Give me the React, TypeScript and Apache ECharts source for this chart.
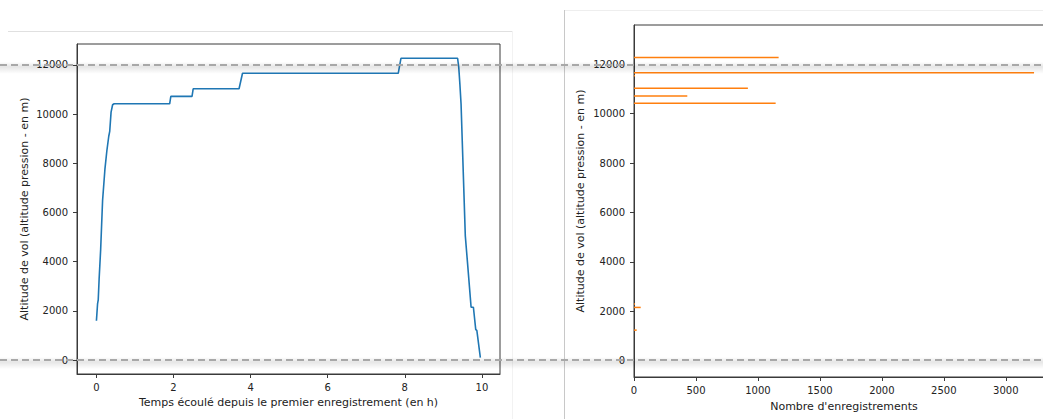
import React, { useEffect, useRef } from "react";
import * as echarts from "echarts";

// Flight profile (time in hours, pressure altitude in m)
const flightTimes = [
  0, 0.03, 0.047, 0.07, 0.11, 0.16, 0.22, 0.27, 0.32, 0.345, 0.38, 0.42, 0.46,
  1.9, 1.93, 2.48, 2.51, 3.7, 3.79, 7.83, 7.9, 9.37, 9.4, 9.43, 9.46, 9.57,
  9.63, 9.72, 9.78, 9.84, 9.87, 9.96,
];
const flightAltitudes = [
  1600, 2300, 2450, 3300, 4500, 6500, 7750, 8500, 9100, 9300, 10080, 10380, 10420,
  10420, 10720, 10720, 11030, 11030, 11660, 11660, 12270, 12270, 11900, 11200, 10400, 5050,
  3900, 2150, 2150, 1250, 1200, 100,
];

// Histogram of altitudes (bin centre in m, number of records)
const histAltitudes = [12280, 11660, 11540, 11030, 10720, 10420, 2285, 2150, 1230];
const histCounts = [1167, 3228, 8, 919, 430, 1143, 8, 54, 22];
const histBinWidth = 61;

const leftXTicks = [0, 2, 4, 6, 8, 10];
const altitudeTicks = [0, 2000, 4000, 6000, 8000, 10000, 12000];
const countTicks = [0, 500, 1000, 1500, 2000, 2500, 3000];

const referenceLevels = [12000, 0];

const FONT = "DejaVu Sans";
const TXT = "#222";
const SPINE = "#3a3a3a";

export default function App() {
  const ref = useRef<HTMLDivElement>(null);
  useEffect(() => {
    if (!ref.current) return;
    const chart = echarts.init(ref.current, undefined, { renderer: "svg" });
    const axisLine = { show: true, onZero: false, lineStyle: { color: SPINE, width: 1 } };
    const tick = (vals: number[]) => ({
      show: true,
      inside: false,
      length: 4,
      lineStyle: { color: SPINE, width: 1 },
      customValues: vals,
    });
    const label = (vals: number[], margin: number) => ({
      customValues: vals,
      margin,
      color: TXT,
      fontFamily: FONT,
      fontSize: 10,
      formatter: (v: number) => String(v),
    });
    const nameStyle = { color: TXT, fontFamily: FONT, fontSize: 11 };

    chart.setOption({
      animation: false,
      backgroundColor: "#fff",
      grid: [
        { left: 77, top: 44, width: 423, height: 330, show: true, borderColor: SPINE, borderWidth: 1, backgroundColor: "transparent", outerBoundsMode: "none", containLabel: false },
        { left: 634, top: 25, width: 420, height: 352, show: true, borderColor: SPINE, borderWidth: 1, backgroundColor: "transparent", outerBoundsMode: "none", containLabel: false },
      ],
      xAxis: [
        {
          type: "value", gridIndex: 0, min: -0.504, max: 10.47,
          axisLine, axisTick: tick(leftXTicks), axisLabel: label(leftXTicks, 8),
          splitLine: { show: false },
          name: "Temps écoulé depuis le premier enregistrement (en h)",
          nameLocation: "middle", nameGap: 23, nameTextStyle: nameStyle,
        },
        {
          type: "value", gridIndex: 1, min: 0, max: 3389,
          axisLine, axisTick: tick(countTicks), axisLabel: label(countTicks, 8),
          splitLine: { show: false },
          name: "Nombre d'enregistrements",
          nameLocation: "middle", nameGap: 24, nameTextStyle: nameStyle,
        },
      ],
      yAxis: [
        {
          type: "value", gridIndex: 0, min: -565, max: 12850,
          axisLine, axisTick: tick(altitudeTicks), axisLabel: label(altitudeTicks, 9),
          splitLine: { show: false },
          name: "Altitude de vol (altitude pression - en m)",
          nameLocation: "middle", nameGap: 47, nameTextStyle: nameStyle,
        },
        {
          type: "value", gridIndex: 1, min: -669, max: 13593,
          axisLine, axisTick: tick(altitudeTicks), axisLabel: label(altitudeTicks, 9),
          splitLine: { show: false },
          name: "Altitude de vol (altitude pression - en m)",
          nameLocation: "middle", nameGap: 48, nameTextStyle: nameStyle,
        },
      ],
      series: [
        {
          type: "line",
          xAxisIndex: 0,
          yAxisIndex: 0,
          data: flightTimes.map((t, i) => [t, flightAltitudes[i]]),
          showSymbol: false,
          lineStyle: { color: "#1f77b4", width: 1.6 },
          itemStyle: { color: "#1f77b4" },
        },
        {
          type: "custom",
          xAxisIndex: 1,
          yAxisIndex: 1,
          encode: { x: 0, y: 1 },
          data: histAltitudes.map((a, i) => [histCounts[i], a]),
          renderItem: (params: any, api: any) => {
            const count = api.value(0);
            const alt = api.value(1);
            const p0 = api.coord([0, alt + histBinWidth / 2]);
            const p1 = api.coord([count, alt - histBinWidth / 2]);
            return {
              type: "rect",
              shape: { x: p0[0], y: p0[1], width: p1[0] - p0[0], height: Math.max(p1[1] - p0[1], 1) },
              style: { fill: "#ff7f0e" },
            };
          },
        },
      ],
    });

    const W = 1043;
    const graphics: any[] = [
      { type: "line", shape: { x1: 8, y1: 31.5, x2: 512, y2: 31.5 }, style: { stroke: "#e0e0e0", lineWidth: 1 }, z: 1 },
      { type: "line", shape: { x1: 512.5, y1: 31, x2: 512.5, y2: 419 }, style: { stroke: "#f2f2f2", lineWidth: 1 }, z: 1 },
      { type: "line", shape: { x1: 565, y1: 10.5, x2: W, y2: 10.5 }, style: { stroke: "#eeeeee", lineWidth: 1 }, z: 1 },
      { type: "line", shape: { x1: 564.5, y1: 10, x2: 564.5, y2: 419 }, style: { stroke: "#c8c8c8", lineWidth: 1 }, z: 1 },
    ];
    referenceLevels.forEach((lvl) => {
      const y = chart.convertToPixel({ yAxisIndex: 0 }, lvl) as number;
      graphics.push({
        type: "rect",
        shape: { x: 0, y: y - 3, width: W, height: 12 },
        style: {
          fill: new echarts.graphic.LinearGradient(0, 0, 0, 1, [
            { offset: 0, color: "rgba(0,0,0,0)" },
            { offset: 0.4, color: "rgba(0,0,0,0.10)" },
            { offset: 1, color: "rgba(0,0,0,0)" },
          ]),
        },
        z: 100,
      });
      graphics.push({
        type: "line",
        shape: { x1: 0, y1: y, x2: W, y2: y },
        style: { stroke: "#a8a8a8", lineWidth: 2, lineDash: [7, 4] },
        z: 101,
      });
    });
    chart.setOption({ graphic: graphics });

    return () => chart.dispose();
  }, []);
  return (
    <div
      ref={ref}
      style={{ position: "absolute", left: 0, top: 0, width: 1043, height: 419 }}
    />
  );
}
